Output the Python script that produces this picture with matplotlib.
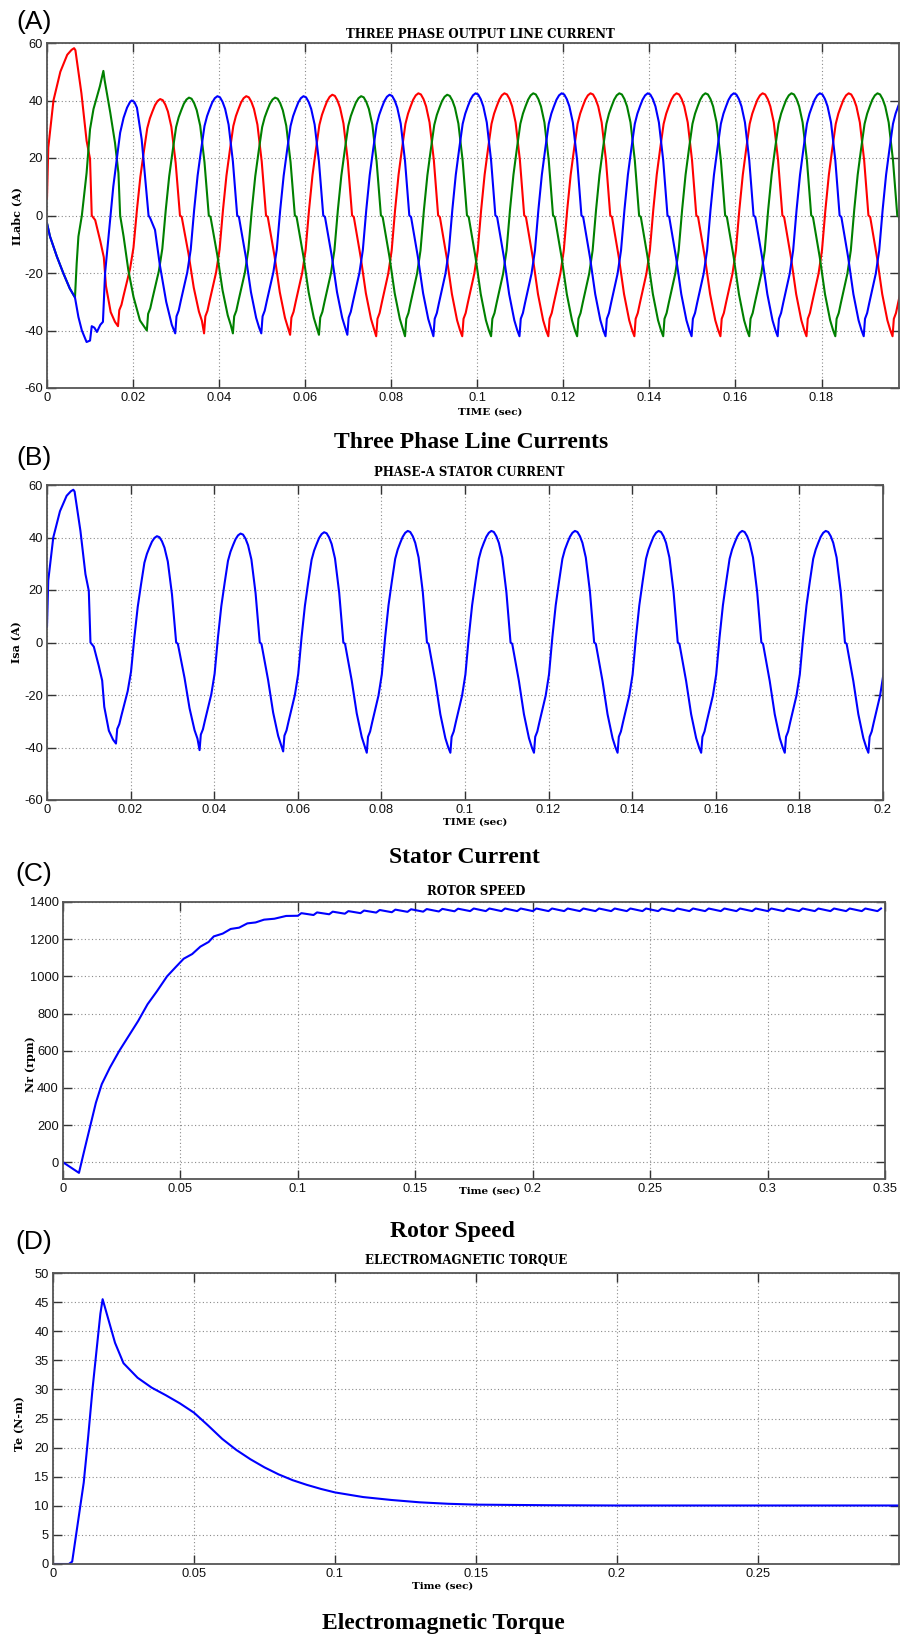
import numpy as np
import matplotlib
matplotlib.use("Agg")
import matplotlib.pyplot as plt

# ----------------------------------------------------------------- data
PERIOD = 0.02  # s, supply period

# one steady-state current cycle (trough -> next trough)
CYCLE_DT = [0.0000, 0.0003, 0.0008, 0.0013, 0.0028, 0.0036, 0.0044, 0.0052,
            0.0060, 0.0068, 0.0074, 0.0080, 0.0086, 0.0092, 0.0098, 0.0104,
            0.0110, 0.0116, 0.0124, 0.0134, 0.0144, 0.0148, 0.0152, 0.0164,
            0.0176, 0.0188, 0.0195]
CYCLE_I = [-41.5, -35.5, -33.5, -30.0, -20.0, -12.0, 2.0, 14.0,
           23.0, 31.5, 35.0, 37.5, 39.8, 41.3, 42.0, 41.6,
           40.0, 37.5, 32.0, 19.0, 0.0, -0.5, -4.0, -14.5,
           -27.0, -36.0, -39.5]

# phase a (red in A, blue in B): start-up transient
IA_START_T = [0.0, 0.0003, 0.0015, 0.0031, 0.0047, 0.0057, 0.0063, 0.0066,
              0.0080, 0.0092, 0.0100, 0.0104, 0.0112, 0.0124, 0.0132, 0.0137,
              0.0148, 0.0158]
IA_START_I = [6.0, 23.6, 40.0, 50.0, 55.9, 57.6, 58.2, 57.5,
              42.5, 26.0, 19.7, 0.0, -1.6, -9.0, -14.5, -24.5,
              -33.6, -37.0]
IA_FIRST_TROUGH = 0.0165
IA_PEAKS = [40.5, 41.5, 42.0, 42.5, 42.5, 42.5, 42.5, 42.5, 42.5, 42.5]
IA_TROUGHS = [-38.5, -41.0, -41.5, -42.0, -42.0, -42.0, -42.0, -42.0, -42.0, -42.0]

# phase b (green)
IB_START_T = [0.0, 0.0007, 0.0023, 0.0038, 0.0053, 0.0065, 0.0069, 0.0073,
              0.0081, 0.0092, 0.0100, 0.0108, 0.0123, 0.0131, 0.0134, 0.0147,
              0.0158, 0.0166, 0.0170, 0.0178, 0.0189, 0.0201, 0.0216]
IB_START_I = [-2.7, -7.3, -14.3, -20.1, -25.4, -28.5, -16.6, -7.3,
              0.0, 14.8, 30.0, 37.0, 45.0, 50.3, 47.0, 35.8,
              25.3, 14.8, 0.0, -7.3, -19.0, -28.3, -36.5]
IB_FIRST_TROUGH = 0.0232
IB_PEAKS = [41.0, 41.0, 41.5, 42.0, 42.5, 42.5, 42.5, 42.5, 42.5]
IB_TROUGHS = [-40.0, -41.0, -41.5, -42.0, -42.0, -42.0, -42.0, -42.0, -42.0]

# phase c (blue)
IC_START_T = [0.0, 0.0007, 0.0023, 0.0038, 0.0053, 0.0065, 0.0073, 0.0081,
              0.0092, 0.0100, 0.0104, 0.0110, 0.0116, 0.0124, 0.0130, 0.0135,
              0.0154, 0.0170, 0.0178, 0.0186, 0.0193, 0.0197, 0.0203, 0.0209,
              0.0220, 0.0236, 0.0240, 0.0251, 0.0262, 0.0277, 0.0290]
IC_START_I = [-2.7, -7.3, -14.3, -20.1, -25.4, -28.5, -35.3, -40.0,
              -44.0, -43.5, -38.5, -39.0, -40.5, -38.0, -37.0, -20.0,
              10.0, 28.8, 34.0, 37.5, 39.5, 40.0, 39.5, 37.5,
              26.5, 0.0, -1.0, -5.0, -17.0, -30.0, -38.0]
IC_FIRST_TROUGH = 0.0298
IC_PEAKS = [41.5, 41.5, 42.0, 42.5, 42.5, 42.5, 42.5, 42.5, 42.5]
IC_TROUGHS = [-41.0, -41.0, -41.5, -42.0, -42.0, -42.0, -42.0, -42.0, -42.0]

# rotor speed (rpm) run-up
SPEED_T = [0.0, 0.0068, 0.0090, 0.0115, 0.0140, 0.0165, 0.0200, 0.0240,
           0.0280, 0.0320, 0.0360, 0.0400, 0.0443, 0.0480, 0.0514, 0.0550,
           0.0585, 0.0620, 0.0642, 0.0680, 0.0714, 0.0750, 0.0785, 0.0820,
           0.0856, 0.0900, 0.0950]
SPEED_N = [0, -57, 60, 190, 320, 420, 510, 600,
           680, 760, 850, 920, 1000, 1050, 1095, 1120,
           1160, 1185, 1215, 1230, 1255, 1262, 1285, 1290,
           1305, 1310, 1325]
# steady speed ripple (one tooth per 1/150 s) after t = 0.1 s
RIPPLE_START = 0.1
RIPPLE_PERIOD = 0.00667
RIPPLE_DT = [0.0, 0.0015, 0.0067]
RIPPLE_OFF = [-7.0, 7.0, -7.0]
RIPPLE_LEVEL = ([1333, 1337, 1341, 1344, 1347, 1350, 1352, 1354, 1355, 1356,
                 1357, 1358] + [1358] * 26)

# electromagnetic torque (N-m)
TORQUE_T = [0.0, 0.0056, 0.0068, 0.0109, 0.0125, 0.0140, 0.0155, 0.0168,
            0.0176, 0.0220, 0.0250, 0.0300, 0.0350, 0.0400, 0.0450, 0.0500,
            0.0550, 0.0600, 0.0650, 0.0700, 0.0750, 0.0800, 0.0850, 0.0900,
            0.0950, 0.1000, 0.1100, 0.1200, 0.1300, 0.1400, 0.1500, 0.1750,
            0.2000, 0.3000]
TORQUE_TE = [0.0, 0.0, 0.4, 14.0, 22.0, 30.0, 37.0, 43.0,
             45.5, 38.0, 34.5, 32.0, 30.3, 29.0, 27.6, 26.0,
             23.8, 21.5, 19.6, 18.0, 16.6, 15.4, 14.4, 13.6,
             12.9, 12.3, 11.5, 11.0, 10.6, 10.35, 10.2, 10.1,
             10.05, 10.05]


def build_phase(start_t, start_i, first_trough, peaks, troughs):
    ts, ys = list(start_t), list(start_i)
    for k, (pk, tr) in enumerate(zip(peaks, troughs)):
        base = first_trough + PERIOD * k
        for dt, v in zip(CYCLE_DT, CYCLE_I):
            ts.append(base + dt)
            ys.append(v * pk / 42.0 if v > 0 else v * (-tr) / 41.5)
    ts.append(first_trough + PERIOD * len(peaks))
    ys.append(troughs[-1])
    return np.array(ts), np.array(ys)


ta, ia = build_phase(IA_START_T, IA_START_I, IA_FIRST_TROUGH, IA_PEAKS, IA_TROUGHS)
tb, ib = build_phase(IB_START_T, IB_START_I, IB_FIRST_TROUGH, IB_PEAKS, IB_TROUGHS)
tc, ic = build_phase(IC_START_T, IC_START_I, IC_FIRST_TROUGH, IC_PEAKS, IC_TROUGHS)

sp_t, sp_n = list(SPEED_T), list(SPEED_N)
for k, lev in enumerate(RIPPLE_LEVEL):
    base = RIPPLE_START + RIPPLE_PERIOD * k
    for dt, off in zip(RIPPLE_DT[:-1], RIPPLE_OFF[:-1]):
        sp_t.append(base + dt)
        sp_n.append(lev + off)
sp_t, sp_n = np.array(sp_t), np.array(sp_n)

# ----------------------------------------------------------------- figure
W, H = 900, 1636
fig = plt.figure(figsize=(W / 100, H / 100), dpi=100)

TICK_FONT = dict(family="Liberation Sans", size=9.3)
SERIF_B = dict(family="DejaVu Serif", weight="bold")


def make_axes(left, top, right, bottom):
    return fig.add_axes([left / W, 1 - bottom / H, (right - left) / W, (bottom - top) / H])


def style(ax, xlim, ylim, xticks, xlabels, yticks):
    ax.set_xlim(*xlim)
    ax.set_ylim(*ylim)
    ax.set_xticks(xticks)
    ax.set_xticklabels(xlabels)
    ax.set_yticks(yticks)
    ax.set_yticklabels([str(v) for v in yticks])
    for lab in ax.get_xticklabels() + ax.get_yticklabels():
        lab.set_fontfamily(TICK_FONT["family"])
        lab.set_fontsize(TICK_FONT["size"])
    ax.tick_params(direction="in", top=True, right=True, length=6.5, width=1.0,
                   color="#333333", pad=3.0, labelcolor="#111111")
    for s in ax.spines.values():
        s.set_color("#555555")
        s.set_linewidth(1.3)
    ax.grid(True, linestyle=(0, (1, 2.2)), color="#8a8a8a", linewidth=0.8)
    ax.set_axisbelow(True)


def ftext(x, y, s, **kw):
    fig.text(x / W, 1 - y / H, s, ha="center", va="center", **kw)


LW = 1.5

# ---- (A)
axA = make_axes(47, 43, 899, 388)
axA.plot(ta, ia, color="#ff0000", lw=LW)
axA.plot(tb, ib, color="#008000", lw=LW)
axA.plot(tc, ic, color="#0000ff", lw=LW)
xtA = [0, 0.02, 0.04, 0.06, 0.08, 0.1, 0.12, 0.14, 0.16, 0.18]
style(axA, (0, 0.198), (-60, 60), xtA, ["0"] + [f"{v:g}" for v in xtA[1:]],
      [-60, -40, -20, 0, 20, 40, 60])

# ---- (B)
axB = make_axes(47, 485, 883, 800)
axB.plot(ta, ia, color="#0000ff", lw=LW)
xtB = [0, 0.02, 0.04, 0.06, 0.08, 0.1, 0.12, 0.14, 0.16, 0.18, 0.2]
style(axB, (0, 0.2), (-60, 60), xtB, [f"{v:g}" for v in xtB],
      [-60, -40, -20, 0, 20, 40, 60])

# ---- (C)
axC = make_axes(63, 902, 885, 1179)
axC.plot(sp_t, sp_n, color="#0000ff", lw=LW)
xtC = [0, 0.05, 0.1, 0.15, 0.2, 0.25, 0.3, 0.35]
style(axC, (0, 0.35), (-90, 1400), xtC, [f"{v:g}" for v in xtC],
      [0, 200, 400, 600, 800, 1000, 1200, 1400])

# ---- (D)
axD = make_axes(53, 1273, 899, 1564)
axD.plot(TORQUE_T, TORQUE_TE, color="#0000ff", lw=LW)
xtD = [0, 0.05, 0.1, 0.15, 0.2, 0.25]
style(axD, (0, 0.3), (0, 50), xtD, [f"{v:g}" for v in xtD],
      [0, 5, 10, 15, 20, 25, 30, 35, 40, 45, 50])

# ---- titles inside figure
TS = 8.5
ftext(480, 35, "THREE PHASE OUTPUT LINE CURRENT", fontsize=TS, **SERIF_B)
ftext(469, 473, "PHASE-A STATOR CURRENT", fontsize=TS, **SERIF_B)
ftext(476, 891, "ROTOR SPEED", fontsize=TS, **SERIF_B)
ftext(466, 1260, "ELECTROMAGNETIC TORQUE", fontsize=TS, **SERIF_B)

# x labels
LS = 7.5
ftext(490, 412, "TIME (sec)", fontsize=LS, **SERIF_B)
ftext(475, 822, "TIME (sec)", fontsize=LS, **SERIF_B)
ftext(490, 1191, "Time (sec)", fontsize=LS, **SERIF_B)
ftext(443, 1586, "Time (sec)", fontsize=LS, **SERIF_B)

# y labels
for x, y, s in [(17, 216, "ILabc (A)"), (17, 642, "Isa (A)"),
                (30, 1064, "Nr (rpm)"), (20, 1424, "Te (N-m)")]:
    fig.text(x / W, 1 - y / H, s, rotation=90, ha="center", va="center",
             fontsize=8, **SERIF_B)

# captions
CAP = dict(family="Liberation Serif", weight="bold", fontsize=17)
ftext(471, 442, "Three Phase Line Currents", **CAP)
ftext(464, 857, "Stator Current", **CAP)
ftext(452, 1231, "Rotor Speed", **CAP)
ftext(443, 1623, "Electromagnetic Torque", **CAP)

# panel letters
LET = dict(family="Liberation Sans", fontsize=19)
ftext(34, 22, "(A)", **LET)
ftext(34, 458, "(B)", **LET)
ftext(34, 874, "(C)", **LET)
ftext(34, 1242, "(D)", **LET)

fig.savefig("out.png", dpi=100)
